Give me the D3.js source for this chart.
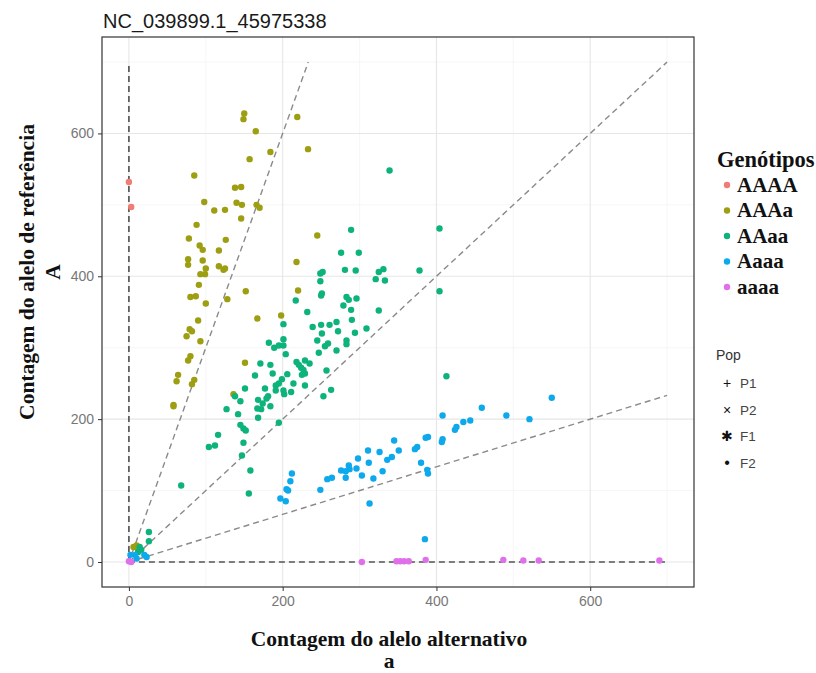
<!DOCTYPE html>
<html>
<head>
<meta charset="utf-8">
<script src="https://cdn.jsdelivr.net/npm/d3@7"></script>
<style>
  body { margin: 0; background: #fff; }
  svg { display: block; }
</style>
</head>
<body>
<div id="chart"></div>
<script>
// [alt, ref] counts
var AAAA = [[0,532],[3,497]];

var AAAa = [[150,628],[149,620],[165,603],[219,623],[233,578],[184,574],[157,564],[85,541],
  [138,524],[146,525],[98,504],[140,503],[147,500],[111,492],[125,493],[166,500],[170,496],
  [146,481],[88,472],[78,453],[126,451],[92,443],[96,437],[117,436],[245,457],[77,424],
  [77,416],[96,422],[100,411],[93,403],[99,403],[117,414],[123,409],[125,411],[218,420],
  [91,388],[152,379],[220,380],[80,371],[87,372],[100,362],[128,368],[198,345],[167,341],
  [90,338],[79,326],[82,323],[75,316],[93,309],[80,288],[77,282],[64,262],[62,253],[85,255],
  [82,249],[58,220],[58,218],[151,279],[136,235],[6,21],[10,23],[12,18]];

var AAaa = [[276,433],[299,433],[249,404],[252,406],[249,393],[281,409],[295,408],[325,406],
  [331,410],[321,396],[333,394],[378,408],[404,379],[251,376],[250,373],[283,371],[286,367],
  [296,369],[217,366],[279,359],[289,353],[325,352],[232,350],[201,333],[239,329],[250,332],
  [261,332],[270,336],[290,339],[309,327],[294,321],[272,323],[251,320],[245,310],[259,306],
  [255,302],[283,310],[283,305],[270,296],[247,293],[182,307],[189,300],[195,303],[201,303],
  [201,312],[204,291],[171,278],[184,276],[218,280],[229,282],[235,278],[221,276],[224,272],
  [227,269],[229,264],[225,262],[257,268],[164,261],[187,264],[206,263],[199,256],[195,250],
  [191,247],[214,250],[229,247],[201,240],[202,235],[211,238],[191,240],[177,243],[181,232],
  [179,229],[168,227],[174,222],[184,218],[172,214],[167,215],[168,202],[145,225],[151,243],
  [138,232],[127,214],[142,207],[145,192],[149,187],[152,184],[149,167],[147,149],[195,195],
  [253,232],[263,241],[413,260],[116,178],[104,161],[112,163],[68,107],[158,128],[156,96],
  [339,548],[289,465],[404,467],[26,42],[26,29],[14,21],[16,17],[12,14]];

var Aaaa = [[408,205],[426,189],[424,185],[408,172],[407,168],[389,175],[386,174],[375,161],
  [372,158],[351,156],[345,170],[326,154],[311,156],[298,145],[286,135],[287,130],[282,127],
  [276,128],[296,131],[312,139],[330,127],[336,143],[342,147],[380,139],[388,129],[389,124],
  [318,117],[303,121],[282,118],[264,118],[258,116],[249,101],[212,124],[210,113],[205,102],
  [207,100],[197,89],[204,85],[313,82],[385,32],[459,216],[491,205],[521,200],[550,230],
  [435,196],[444,198],[20,10],[23,7],[8,10],[10,5],[2,10]];

var aaaa = [[0,1],[3,0],[303,0],[348,1],[353,1],[358,1],[364,1],[386,3],[487,3],[513,2],
  [533,2],[690,2]];

var genotypes = ["AAAA", "AAAa", "AAaa", "Aaaa", "aaaa"];
var genoData = [AAAA, AAAa, AAaa, Aaaa, aaaa];
var genoColors = ["#F07C74", "#9E9E12", "#0DB37A", "#0DA9EC", "#E070EA"];

var pops = ["P1", "P2", "F1", "F2"];
var popSymbols = ["+", "\u00d7", "\u2731", "\u2022"];

// dosage reference lines: ref = slope * alt, ending at 700
var slopes = [3, 1, 1/3];
var xTicks = [0, 200, 400, 600];
var yTicks = [0, 200, 400, 600];
var minorTicks = [100, 300, 500, 700];

var W = 816, H = 673;
var panel = {left: 102, right: 694, top: 37, bottom: 587};

var svg = d3.select("#chart").append("svg")
    .attr("width", W)
    .attr("height", H);

svg.append("rect").attr("width", W).attr("height", H).attr("fill", "#fff");

var x = d3.scaleLinear().domain([-35, 735]).range([panel.left, panel.right]);
var y = d3.scaleLinear().domain([-35, 735]).range([panel.bottom, panel.top]);

// grid
var grid = svg.append("g");
grid.selectAll(".minx").data(minorTicks).enter().append("line")
    .attr("x1", d => x(d)).attr("x2", d => x(d))
    .attr("y1", panel.top).attr("y2", panel.bottom)
    .attr("stroke", "#F2F2F2").attr("stroke-width", 0.7);
grid.selectAll(".miny").data(minorTicks).enter().append("line")
    .attr("y1", d => y(d)).attr("y2", d => y(d))
    .attr("x1", panel.left).attr("x2", panel.right)
    .attr("stroke", "#F2F2F2").attr("stroke-width", 0.7);
grid.selectAll(".majx").data(xTicks).enter().append("line")
    .attr("x1", d => x(d)).attr("x2", d => x(d))
    .attr("y1", panel.top).attr("y2", panel.bottom)
    .attr("stroke", "#E6E6E6").attr("stroke-width", 1.1);
grid.selectAll(".majy").data(yTicks).enter().append("line")
    .attr("y1", d => y(d)).attr("y2", d => y(d))
    .attr("x1", panel.left).attr("x2", panel.right)
    .attr("stroke", "#E6E6E6").attr("stroke-width", 1.1);

// dashed lines
var lines = svg.append("g").attr("fill", "none").attr("stroke-dasharray", "6,4");
lines.append("line")
    .attr("x1", x(0)).attr("y1", y(0)).attr("x2", x(0)).attr("y2", y(700))
    .attr("stroke", "#444").attr("stroke-width", 1.5);
slopes.forEach(function (s) {
  var endX = Math.min(700, 700 / s), endY = Math.min(700, 700 * s);
  lines.append("line")
      .attr("x1", x(0)).attr("y1", y(0)).attr("x2", x(endX)).attr("y2", y(endY))
      .attr("stroke", "#8a8a8a").attr("stroke-width", 1.4);
});
lines.append("line")
    .attr("x1", x(0)).attr("y1", y(0)).attr("x2", x(700)).attr("y2", y(0))
    .attr("stroke", "#555").attr("stroke-width", 1.4);

// points
var pts = svg.append("g");
genoData.forEach(function (data, i) {
  pts.selectAll(null).data(data).enter().append("circle")
      .attr("cx", d => x(d[0]))
      .attr("cy", d => y(d[1]))
      .attr("r", 3.2)
      .attr("fill", genoColors[i]);
});

// panel border
svg.append("rect")
    .attr("x", panel.left).attr("y", panel.top)
    .attr("width", panel.right - panel.left).attr("height", panel.bottom - panel.top)
    .attr("fill", "none").attr("stroke", "#333").attr("stroke-width", 1.2);

// axes
var xAxis = svg.append("g")
    .attr("transform", "translate(0," + panel.bottom + ")")
    .call(d3.axisBottom(x).tickValues(xTicks).tickSize(4).tickPadding(5));
var yAxis = svg.append("g")
    .attr("transform", "translate(" + panel.left + ",0)")
    .call(d3.axisLeft(y).tickValues(yTicks).tickSize(4).tickPadding(4));
[xAxis, yAxis].forEach(function (a) {
  a.select(".domain").remove();
  a.selectAll("line").attr("stroke", "#333");
  a.selectAll("text")
      .attr("fill", "#777")
      .style("font-family", "'Liberation Sans', Arial, sans-serif")
      .style("font-size", "14px");
});

// title
svg.append("text")
    .attr("x", 103).attr("y", 28)
    .style("font-family", "'Liberation Sans', Arial, sans-serif")
    .style("font-size", "20px")
    .attr("fill", "#1a1a1a")
    .text("NC_039899.1_45975338");

// axis titles
var serif = "'Liberation Serif', 'Times New Roman', serif";
var xt = svg.append("g").attr("text-anchor", "middle")
    .style("font-family", serif).style("font-weight", "bold").style("font-size", "21.5px")
    .attr("fill", "#111");
xt.append("text").attr("x", 389).attr("y", 646).text("Contagem do alelo alternativo");
xt.append("text").attr("x", 389).attr("y", 668).text("a");

var yt = svg.append("g").attr("text-anchor", "middle")
    .style("font-family", serif).style("font-weight", "bold").style("font-size", "21.5px")
    .attr("fill", "#111");
yt.append("text").attr("transform", "translate(34,272) rotate(-90)")
    .text("Contagem do alelo de refer\u00eancia");
yt.append("text").attr("transform", "translate(60,272) rotate(-90)").text("A");

// legend: genotypes
var lg = svg.append("g");
lg.append("text").attr("x", 717).attr("y", 167)
    .style("font-family", serif).style("font-weight", "bold").style("font-size", "22.5px")
    .attr("fill", "#111").text("Gen\u00f3tipos");
var gItems = lg.selectAll(".gi").data(genotypes).enter().append("g")
    .attr("transform", (d, i) => "translate(0," + (185 + i * 25.5) + ")");
gItems.append("circle").attr("cx", 727).attr("cy", 0).attr("r", 3.2)
    .attr("fill", (d, i) => genoColors[i]);
gItems.append("text").attr("x", 737).attr("y", 6.5)
    .style("font-family", serif).style("font-weight", "bold").style("font-size", "21px")
    .attr("fill", "#111").text(d => d);

// legend: population
var lp = svg.append("g").style("font-family", "'Liberation Sans', Arial, sans-serif");
lp.append("text").attr("x", 716).attr("y", 360)
    .style("font-size", "14px").attr("fill", "#333").text("Pop");
var pItems = lp.selectAll(".pi").data(pops).enter().append("g")
    .attr("transform", (d, i) => "translate(0," + (383 + i * 26.5) + ")");
pItems.append("text").attr("x", 727).attr("y", 5).attr("text-anchor", "middle")
    .style("font-size", (d, i) => i === 3 ? "16px" : "14px")
    .attr("fill", "#111").text((d, i) => popSymbols[i]);
pItems.append("text").attr("x", 740).attr("y", 5)
    .style("font-size", "13.5px").attr("fill", "#444").text(d => d);
</script>
</body>
</html>
